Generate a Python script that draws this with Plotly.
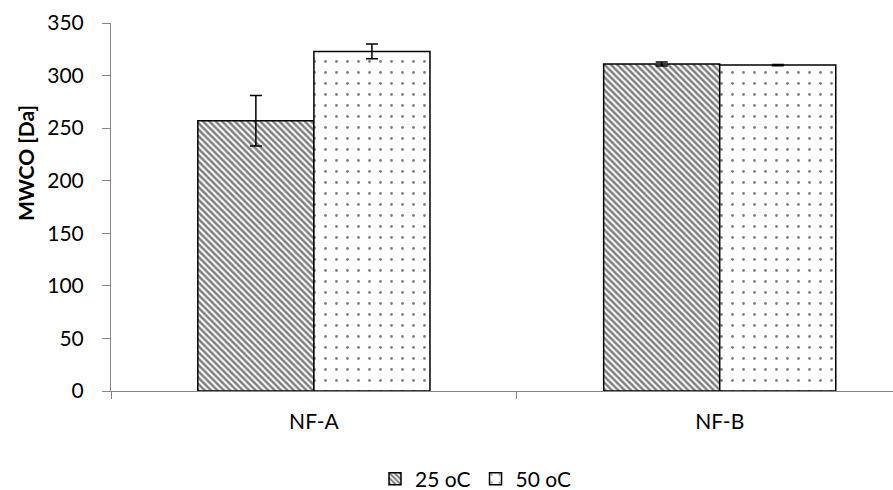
import plotly.graph_objects as go

categories = ["NF-A", "NF-B"]
series_names = ["25 oC", "50 oC"]
values_25 = [257, 311]
errors_25 = [24, 2]
values_50 = [323, 310]
errors_50 = [7, 0.6]
y_ticks = [0, 50, 100, 150, 200, 250, 300, 350]
y_title = "MWCO [Da]"

FONT = "Lato"
FS = 21

fig = go.Figure()
fig.add_trace(go.Bar(
    name=series_names[0], x=categories, y=values_25,
    error_y=dict(type="data", array=errors_25, color="black", thickness=1.5, width=6),
    marker=dict(color="white", line=dict(color="black", width=1.5),
                pattern=dict(shape="\\", fgcolor="black", bgcolor="white", size=4.5, solidity=0.55)),
))
fig.add_trace(go.Bar(
    name=series_names[1], x=categories, y=values_50,
    error_y=dict(type="data", array=errors_50, color="black", thickness=1.5, width=6),
    marker=dict(color="white", line=dict(color="black", width=1.5),
                pattern=dict(shape=".", fgcolor="black", bgcolor="white", size=11, solidity=0.05)),
))

fig.add_annotation(
    text="<b>" + y_title + "</b>", textangle=-90,
    xref="paper", yref="paper",
    x=(25 - 111) / 782, y=(391 - 163) / 368,
    xanchor="center", yanchor="middle", showarrow=False,
    font=dict(family=FONT, size=FS, color="black"),
)

fig.update_layout(
    width=893, height=490,
    margin=dict(l=111, r=0, t=23, b=99),
    paper_bgcolor="white", plot_bgcolor="white",
    barmode="group", bargap=0.428, bargroupgap=0,
    font=dict(family=FONT, size=FS, color="black"),
    showlegend=True,
    legend=dict(orientation="h", xref="container", yref="container",
                x=476 / 893, xanchor="center", y=1 - 479 / 490, yanchor="middle",
                font=dict(family=FONT, size=FS), itemwidth=30),
    xaxis=dict(
        type="category", range=[-0.5, 1.427],
        showline=True, linecolor="#868686", linewidth=1,
        ticks="outside", tickson="boundaries", ticklen=7, tickcolor="#868686",
        showgrid=False, zeroline=False, ticklabelstandoff=12,
        tickfont=dict(family=FONT, size=FS),
    ),
    yaxis=dict(
        range=[0, 350], tickvals=y_ticks,
        showline=True, linecolor="#868686", linewidth=1,
        ticks="outside", ticklen=8, tickcolor="#868686",
        showgrid=False, zeroline=False, ticklabelstandoff=14,
        tickfont=dict(family=FONT, size=FS),
    ),
)

fig.write_html("out.html")
